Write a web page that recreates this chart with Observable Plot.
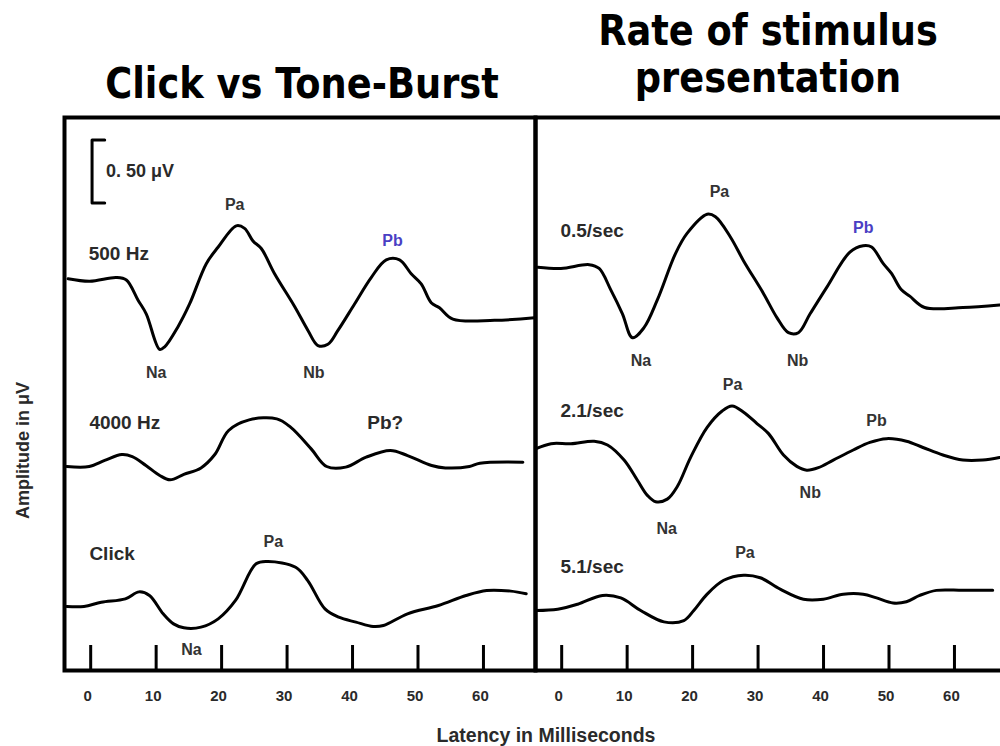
<!DOCTYPE html>
<html><head><meta charset="utf-8">
<script src="https://cdn.jsdelivr.net/npm/d3@7"></script>
<script src="https://cdn.jsdelivr.net/npm/@observablehq/plot@0.6"></script>
<style>
html,body{margin:0;padding:0;background:#fff;overflow:hidden;}
#wrap{position:relative;width:1000px;height:746px;overflow:hidden;background:#fff;}
#head{position:relative;height:108px;}
.title{position:absolute;width:600px;font-family:"DejaVu Sans",sans-serif;font-weight:bold;font-size:43px;line-height:47px;color:#000;text-align:center;white-space:pre;transform:scaleX(0.855);transform-origin:center;}
#chart svg{display:block;max-width:none;}
#xlabel{position:relative;left:46px;width:1000px;text-align:center;font:bold 19.5px "Liberation Sans",Arial,sans-serif;line-height:22px;padding-top:4px;color:#2a2a2a;}
</style></head>
<body><div id="wrap">
<div id="head"></div>
<div id="chart"></div>
<div id="xlabel"></div>
</div>
<script>
// ---- data ----
const panelTitles = ["Click vs Tone-Burst", "Rate of stimulus\npresentation"];
const xAxisLabel = "Latency in Milliseconds";
const yAxisLabel = "Amplitude in \u03bcV";
const xTicks = [0, 10, 20, 30, 40, 50, 60];

const traceNames = ["500 Hz", "4000 Hz", "Click", "0.5/sec", "2.1/sec", "5.1/sec"];
const tracePanel = [0, 0, 0, 1, 1, 1];
const traceOffset = [3.109, 1.619, 0.508, 3.201, 1.760, 0.476]; // display baseline, µV

const lat500 = [-3.45,-0.15,3.92,5.45,7.24,8.50,10.53,11.30,13.34,15.11,17.66,19.45,22.24,23.51,24.79,26.06,28.09,31.15,33.19,34.72,36.24,37.77,40.31,42.85,45.15,47.18,48.96,50.49,52.02,53.28,55.33,61.68,67.79];
const amp500 = [0,-0.02,0.01,-0.01,-0.17,-0.28,-0.56,-0.54,-0.38,-0.20,0.12,0.25,0.42,0.40,0.30,0.24,0.04,-0.22,-0.41,-0.53,-0.52,-0.41,-0.20,0.01,0.15,0.15,0.04,-0.04,-0.19,-0.23,-0.32,-0.33,-0.31];

const lat4000 = [-3.65,-0.23,2.14,4.76,6.35,8.44,10.55,12.12,14.23,16.85,18.96,21.07,24.21,28.43,30.53,33.68,36.05,38.95,42.08,45.77,48.40,52.08,54.18,57.86,59.45,66.02];
const amp4000 = [0,0,0.048,0.095,0.079,0.008,-0.071,-0.106,-0.063,-0.011,0.095,0.286,0.370,0.378,0.312,0.140,0,-0.005,0.074,0.127,0.087,0.008,-0.011,0,0.026,0.034];

const latClick = [-3.65,-1.02,1.62,5.30,7.39,8.98,11.07,12.66,14.23,16.85,19.48,22.12,25.27,27.11,31.31,33.16,35.79,37.89,40.52,43.15,44.72,48.40,53.13,57.34,60.49,64.17,66.53];
const ampClick = [0,0,0.034,0.061,0.116,0.087,-0.058,-0.138,-0.169,-0.164,-0.098,0.048,0.339,0.357,0.312,0.206,-0.019,-0.085,-0.124,-0.159,-0.151,-0.058,0.008,0.087,0.127,0.122,0.101];

const lat05 = [-3.65,-0.11,4.20,5.72,7.50,9.28,10.81,12.57,14.61,17.40,19.18,22.22,23.49,25.77,27.79,30.84,32.88,34.64,36.16,37.95,40.49,44.03,46.06,47.34,49.10,50.38,51.90,53.17,55.45,61.28,66.88];
const amp05 = [0,-0.01,0.02,-0.01,-0.18,-0.37,-0.56,-0.48,-0.26,0.11,0.27,0.42,0.40,0.24,0.05,-0.21,-0.40,-0.52,-0.52,-0.37,-0.16,0.12,0.17,0.16,0.03,-0.05,-0.18,-0.23,-0.32,-0.32,-0.30];

const lat21 = [-3.91,-1.63,1.42,4.96,7.00,9.53,11.57,13.09,14.35,16.13,17.66,19.68,22.22,24.51,26.03,27.79,29.83,31.60,33.88,35.92,37.44,39.21,41.49,44.54,47.08,49.62,52.66,55.19,58.24,61.28,64.32,66.88];
const amp21 = [0,0.04,0.04,0.06,0.03,-0.09,-0.25,-0.37,-0.42,-0.40,-0.30,-0.07,0.17,0.30,0.34,0.29,0.20,0.12,-0.05,-0.14,-0.17,-0.15,-0.09,-0.01,0.05,0.08,0.06,0.01,-0.05,-0.09,-0.09,-0.07];

const lat51 = [-3.91,-0.61,2.44,6.24,9.03,12.07,15.62,18.66,20.18,22.22,24.75,27.79,30.33,33.38,36.93,39.97,43.01,46.06,48.10,50.62,52.66,54.69,57.23,61.28,65.84];
const amp51 = [0,0.01,0.05,0.12,0.10,0,-0.09,-0.08,0,0.13,0.24,0.28,0.26,0.17,0.09,0.09,0.13,0.13,0.10,0.06,0.07,0.12,0.16,0.16,0.16];

const latencies = [lat500, lat4000, latClick, lat05, lat21, lat51];
const amplitudes = [amp500, amp4000, ampClick, amp05, amp21, amp51];

// scale bar
const scaleBarLabel = "0. 50 \u03bcV";
const scaleBarAmp = 0.5;

// annotations (panel index, latency ms, display level µV)
const traceLabels = [
  {p:0, text:"500 Hz", t:-0.3, v:3.31},
  {p:0, text:"4000 Hz", t:-0.2, v:1.963},
  {p:0, text:"Click", t:-0.2, v:0.926},
  {p:1, text:"0.5/sec", t:-0.2, v:3.492},
  {p:1, text:"2.1/sec", t:-0.2, v:2.063},
  {p:1, text:"5.1/sec", t:-0.2, v:0.825}
];
const peakLabels = [
  {p:0, text:"Pa", t:22.0, v:3.698},
  {p:0, text:"Na", t:10.0, v:2.365},
  {p:0, text:"Nb", t:34.1, v:2.365},
  {p:0, text:"Pb", t:46.1, v:3.413, hl:true},
  {p:0, text:"Pa", t:27.9, v:1.024},
  {p:0, text:"Na", t:15.4, v:0.167},
  {p:1, text:"Pa", t:24.1, v:3.796},
  {p:1, text:"Na", t:12.1, v:2.460},
  {p:1, text:"Nb", t:36.05, v:2.460},
  {p:1, text:"Pb", t:46.06, v:3.510, hl:true},
  {p:1, text:"Pa", t:26.1, v:2.270},
  {p:1, text:"Pb", t:48.1, v:1.979},
  {p:1, text:"Nb", t:37.97, v:1.410},
  {p:1, text:"Na", t:16.04, v:1.125},
  {p:1, text:"Pa", t:28.0, v:0.937}
];
const bigPeakLabels = [{p:0, text:"Pb?", t:45.0, v:1.963}];

// ---- build ----
const head = document.getElementById("head");
const titleCenters = [301.5, 767.5];
const titleTops = [60, 7];
panelTitles.forEach((s, i) => {
  const d = document.createElement("div");
  d.className = "title";
  d.textContent = s;
  d.style.left = (titleCenters[i] - 300) + "px";
  d.style.top = titleTops[i] + "px";
  head.appendChild(d);
});
document.getElementById("xlabel").textContent = xAxisLabel;

const xDomain = [-4.0, 67.95];
const rows = [];
traceNames.forEach((name, i) => {
  latencies[i].forEach((t, j) => rows.push({panel: panelTitles[tracePanel[i]], trace: name, t, v: amplitudes[i][j] + traceOffset[i]}));
});
const withPanel = arr => arr.map(d => ({...d, panel: panelTitles[d.p]}));
const barBottom = 3.71, barX = 0.21, barSerif = 2.14;
const bracket = [
  {t: barSerif, v: barBottom + scaleBarAmp}, {t: barX, v: barBottom + scaleBarAmp},
  {t: barX, v: barBottom}, {t: barSerif, v: barBottom}
].map(d => ({...d, panel: panelTitles[0]}));

const chart = Plot.plot({
  width: 1006, height: 612,
  marginLeft: 63, marginRight: 0, marginTop: 9, marginBottom: 50,
  style: {fontFamily: '"Liberation Sans", Arial, sans-serif', maxWidth: "none", background: "#fff"},
  fx: {domain: panelTitles, padding: 0, axis: null},
  x: {domain: xDomain, axis: null},
  y: {domain: [0, 4.389], axis: null},
  marks: [
    Plot.ruleX(xTicks, {x: d => d, stroke: "#000", strokeWidth: 3, insetTop: 528}),
    Plot.text(xTicks, {x: d => d, frameAnchor: "bottom", dy: 30, dx: -3, text: d => String(d), fontSize: 15, fontWeight: "bold", fill: "#2a2a2a"}),
    Plot.line(rows, {fx: "panel", x: "t", y: "v", z: "trace", curve: "catmull-rom", stroke: "#000", strokeWidth: 3, strokeLinejoin: "round"}),
    Plot.line(bracket, {fx: "panel", x: "t", y: "v", stroke: "#000", strokeWidth: 3}),
    Plot.text([{panel: panelTitles[0], text: scaleBarLabel}], {fx: "panel", x: () => barSerif + 0.2, y: () => barBottom + scaleBarAmp / 2, text: "text", textAnchor: "start", fontSize: 18, fontWeight: "bold", fill: "#2a2a2a"}),
    Plot.text(withPanel(traceLabels), {fx: "panel", x: "t", y: "v", text: "text", textAnchor: "start", fontSize: 19, fontWeight: "bold", fill: "#2a2a2a"}),
    Plot.text(withPanel(peakLabels), {fx: "panel", x: "t", y: "v", text: "text", fontSize: 16, fontWeight: "bold", fill: d => d.hl ? "#4a3fc4" : "#333"}),
    Plot.text(withPanel(bigPeakLabels), {fx: "panel", x: "t", y: "v", text: "text", fontSize: 19, fontWeight: "bold", fill: "#2a2a2a"}),
    Plot.text([{panel: panelTitles[0], text: yAxisLabel}], {fx: "panel", x: () => xDomain[0], y: () => 1.746, dx: -41, rotate: -90, text: "text", fontSize: 18, fontWeight: "bold", fill: "#2a2a2a"}),
    Plot.frame({stroke: "#000", strokeWidth: 4})
  ]
});
document.getElementById("chart").appendChild(chart);
</script>
</body></html>
